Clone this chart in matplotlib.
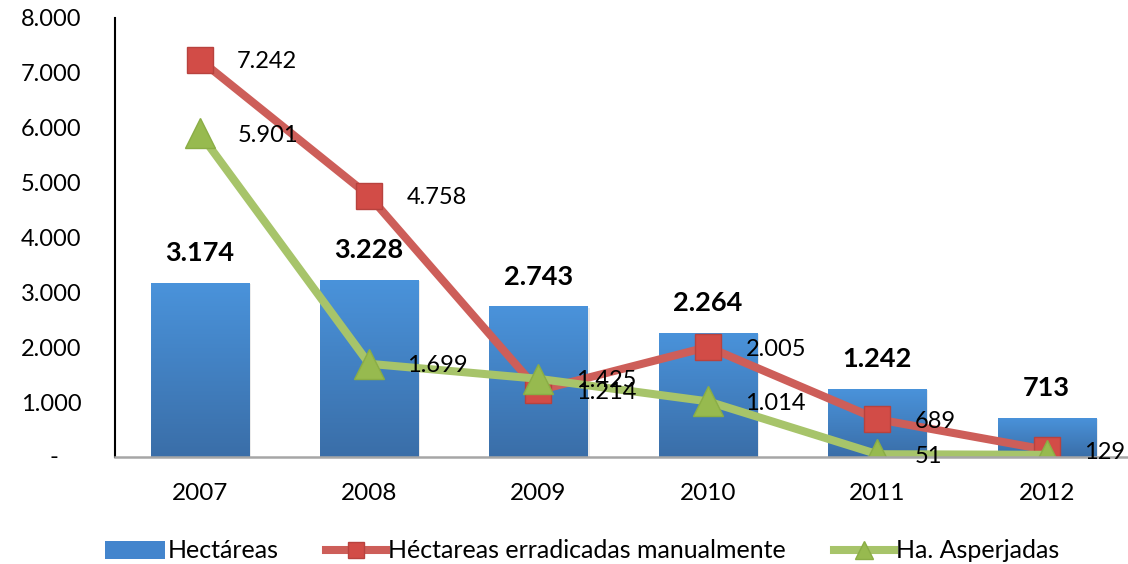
import matplotlib.pyplot as plt
import numpy as np
from matplotlib.colors import LinearSegmentedColormap
from matplotlib.lines import Line2D
from matplotlib.patches import Patch

# datos
years = ['2007', '2008', '2009', '2010', '2011', '2012']
hectareas = [3174, 3228, 2743, 2264, 1242, 713]
erradicadas = [7242, 4758, 1214, 2005, 689, 129]
asperjadas = [5901, 1699, 1425, 1014, 51, 40]
asperjadas_show = [True, True, True, True, True, False]

plt.rcParams['font.family'] = ['Lato', 'DejaVu Sans']


def fmt(v):
    return f'{int(round(v)):,}'.replace(',', '.')


fig = plt.figure(figsize=(11.28, 5.64), dpi=100)
ax = fig.add_axes([115 / 1128, 1 - 457 / 564, 1 - 115 / 1128, (457 - 18) / 564])

x = np.arange(len(years))
bar_w = 0.58

# barras con degradado
cmap_bar = LinearSegmentedColormap.from_list('bar', ['#3a6ea8', '#4a93db'])
grad = np.linspace(0, 1, 256).reshape(-1, 1)
bars = ax.bar(x, hectareas, width=bar_w, color='none', edgecolor='none', zorder=2)
for b in bars:
    x0, w, h = b.get_x(), b.get_width(), b.get_height()
    # sombra
    ax.bar(x0 + w / 2 + 0.012, h, width=w, bottom=-25, color='#000000', alpha=0.08, zorder=1.5)
    im = ax.imshow(grad, extent=[x0, x0 + w, 0, h], origin='lower', aspect='auto',
                   cmap=cmap_bar, zorder=2)
    im.set_clip_path(b)

for xi, v in zip(x, hectareas):
    ax.annotate(fmt(v), (xi, v), xytext=(0, 21.5), textcoords='offset points',
                ha='center', va='center', fontsize=19.5, fontweight='bold', color='black', zorder=6)

# lineas
red_line = '#cd5e59'
red_mark = '#d24c47'
green_line = '#a7c46a'
green_mark = '#97ba4f'

ax.plot(x, erradicadas, color=red_line, lw=5.8, zorder=3, solid_capstyle='butt')
ax.plot(x, erradicadas, ls='none', marker='s', ms=19, mfc=red_mark, mec='#b8423e', mew=1,
        zorder=3.5)
ax.plot(x, asperjadas, color=green_line, lw=5.8, zorder=4, solid_capstyle='butt')
ax.plot(x, asperjadas, ls='none', marker='^', ms=21, mfc=green_mark, mec='#8aad45', mew=1,
        zorder=4.5)

for xi, v in zip(x, erradicadas):
    ax.annotate(fmt(v), (xi, v), xytext=(27, -1.5), textcoords='offset points',
                ha='left', va='center', fontsize=17, color='black', zorder=6)
for xi, v, s in zip(x, asperjadas, asperjadas_show):
    if s:
        ax.annotate(fmt(v), (xi, v), xytext=(27, -1.5), textcoords='offset points',
                    ha='left', va='center', fontsize=17, color='black', zorder=6)

# ejes
ax.set_xlim(-0.5, 5.48)
ax.set_ylim(0, 8000)
yt = list(range(0, 8001, 1000))
ax.set_yticks(yt)
ax.set_yticklabels(['' if t == 0 else fmt(t) for t in yt])
# el cero se muestra como "-" algo más a la izquierda (formato contable)
ax.annotate('-', xy=(0, 0), xycoords=('axes fraction', 'data'), xytext=(-44, 0),
            textcoords='offset points', ha='center', va='center', fontsize=17)
ax.set_xticks(x)
ax.set_xticklabels(years)
ax.tick_params(axis='y', length=0, pad=24, labelsize=17)
ax.tick_params(axis='x', length=0, pad=19, labelsize=17.5)
for s in ['top', 'right']:
    ax.spines[s].set_visible(False)
ax.spines['left'].set_color('black')
ax.spines['left'].set_linewidth(1.5)
ax.spines['bottom'].set_color('#a6a6a6')
ax.spines['bottom'].set_linewidth(1.8)
ax.spines['bottom'].set_zorder(5)

handles = [
    Patch(facecolor='#4385cd', edgecolor='none'),
    Line2D([], [], color=red_line, lw=5.8, marker='s', ms=12, mfc=red_mark, mec='#b8423e'),
    Line2D([], [], color=green_line, lw=5.8, marker='^', ms=13, mfc=green_mark, mec='#8aad45'),
]
labels = ['Hectáreas', 'Héctareas erradicadas manualmente', 'Ha. Asperjadas']
fig.legend(handles, labels, loc='center', bbox_to_anchor=(582 / 1128, 1 - 551 / 564),
           ncol=3, frameon=False, fontsize=18, handlelength=2.4, handletextpad=0.1,
           columnspacing=1.9)

fig.savefig('out.png', dpi=100)
